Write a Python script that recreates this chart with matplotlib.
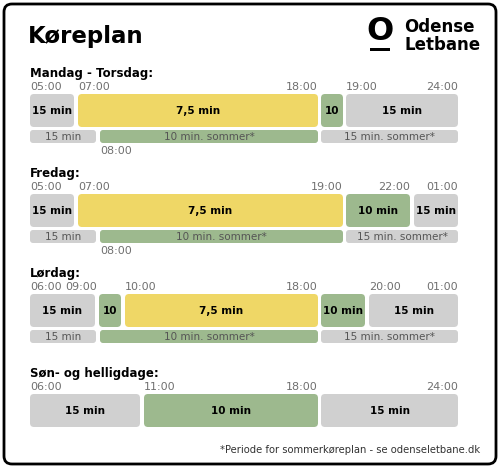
import matplotlib
matplotlib.use("Agg")
import matplotlib.pyplot as plt
from matplotlib.patches import FancyBboxPatch

GREY = "#d0d0d0"; YEL = "#efd766"; GRN = "#9db98e"; TXT = "#707070"
colors = {"g": GREY, "y": YEL, "n": GRN}

# day sections: title, top y (layout units), main blocks, sub blocks, time labels
days = ["Mandag - Torsdag:", "Fredag:", "Lørdag:", "Søn- og helligdage:"]
tops = [74, 174, 274, 374]
main_blocks = [
    [(30, 74, "g", "15 min"), (78, 318, "y", "7,5 min"), (321, 343, "n", "10"), (346, 458, "g", "15 min")],
    [(30, 74, "g", "15 min"), (78, 343, "y", "7,5 min"), (346, 410, "n", "10 min"), (414, 458, "g", "15 min")],
    [(30, 95, "g", "15 min"), (99, 121, "n", "10"), (125, 318, "y", "7,5 min"), (321, 365, "n", "10 min"), (369, 458, "g", "15 min")],
    [(30, 140, "g", "15 min"), (144, 318, "n", "10 min"), (321, 458, "g", "15 min")],
]
sub_blocks = [
    [(30, 96, "g", "15 min"), (100, 318, "n", "10 min. sommer*"), (321, 458, "g", "15 min. sommer*")],
    [(30, 96, "g", "15 min"), (100, 343, "n", "10 min. sommer*"), (346, 458, "g", "15 min. sommer*")],
    [(30, 96, "g", "15 min"), (100, 318, "n", "10 min. sommer*"), (321, 458, "g", "15 min. sommer*")],
    [],
]
time_labels = [
    [(30, "l", "05:00"), (78, "l", "07:00"), (318, "r", "18:00"), (346, "l", "19:00"), (458, "r", "24:00")],
    [(30, "l", "05:00"), (78, "l", "07:00"), (343, "r", "19:00"), (410, "r", "22:00"), (458, "r", "01:00")],
    [(30, "l", "06:00"), (97, "r", "09:00"), (125, "l", "10:00"), (318, "r", "18:00"), (369, "l", "20:00"), (458, "r", "01:00")],
    [(30, "l", "06:00"), (144, "l", "11:00"), (318, "r", "18:00"), (458, "r", "24:00")],
]
below_labels = [["08:00"], ["08:00"], [], []]

fig = plt.figure(figsize=(5.0, 4.68), dpi=100)
ax = fig.add_axes([0, 0, 1, 1])
ax.set_xlim(0, 500); ax.set_ylim(468, 0); ax.axis("off")
plt.rcParams["font.family"] = ["DejaVu Sans"]

def rbox(x0, x1, y0, y1, c, r=3, ec="none", lw=0):
    ax.add_patch(FancyBboxPatch((x0 + r, y0 + r), x1 - x0 - 2 * r, y1 - y0 - 2 * r,
                                boxstyle=f"round,pad={r}", fc=c, ec=ec, lw=lw))

# frame
rbox(4, 496, 4, 464, "white", r=8, ec="black", lw=2)

ax.text(28, 36, "Køreplan", fontsize=16.5, fontweight="bold", va="center", ha="left")
# logo
ax.text(380, 31, "O", fontsize=23, fontweight="bold", ha="center", va="center")
ax.add_patch(plt.Rectangle((370, 48), 20, 3, fc="black"))
ax.text(404, 36, "Odense\nLetbane", fontsize=12, fontweight="bold", ha="left", va="center", linespacing=1.0)

for i, day in enumerate(days):
    t = tops[i]
    ax.text(30, t, day, fontsize=8.5, fontweight="bold", va="center")
    for x, al, lab in time_labels[i]:
        ax.text(x, t + 12.5, lab, fontsize=8, color=TXT, va="center",
                ha="left" if al == "l" else "right")
    for x0, x1, c, lab in main_blocks[i]:
        rbox(x0, x1, t + 20, t + 53, colors[c], r=4)
        ax.text((x0 + x1) / 2, t + 37, lab, fontsize=7.5, fontweight="bold", ha="center", va="center")
    for x0, x1, c, lab in sub_blocks[i]:
        rbox(x0, x1, t + 56, t + 69, colors[c], r=3)
        ax.text((x0 + x1) / 2, t + 63, lab, fontsize=7.5, color="#555555", ha="center", va="center")
    for lab in below_labels[i]:
        ax.text(100, t + 77, lab, fontsize=8, color=TXT, va="center", ha="left")

ax.text(480, 450, "*Periode for sommerkøreplan - se odenseletbane.dk", fontsize=7.2,
        color="#333333", ha="right", va="center")

fig.savefig("out.png", dpi=100)
